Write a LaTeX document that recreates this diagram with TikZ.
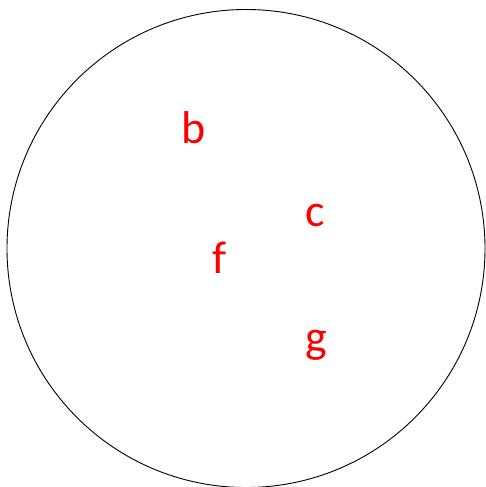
\documentclass[tikz,border=0pt]{standalone}
\usepackage{fontspec}
\setmainfont{Carlito}
\begin{document}
\begin{tikzpicture}[x=1pt,y=-1pt,letter/.style={text=red,font=\fontsize{46}{55}\selectfont,anchor=base,inner sep=0pt}]
\useasboundingbox (0,0) rectangle (486,487);
\draw[line width=0.9pt] (246,248.5) circle (239);
\node[letter] (b) at (193.5,143) {b};
\node[letter] (c) at (315,226) {c};
\node[letter] (f) at (220,273) {f};
\node[letter] (g) at (316,352) {g};
\end{tikzpicture}
\end{document}
